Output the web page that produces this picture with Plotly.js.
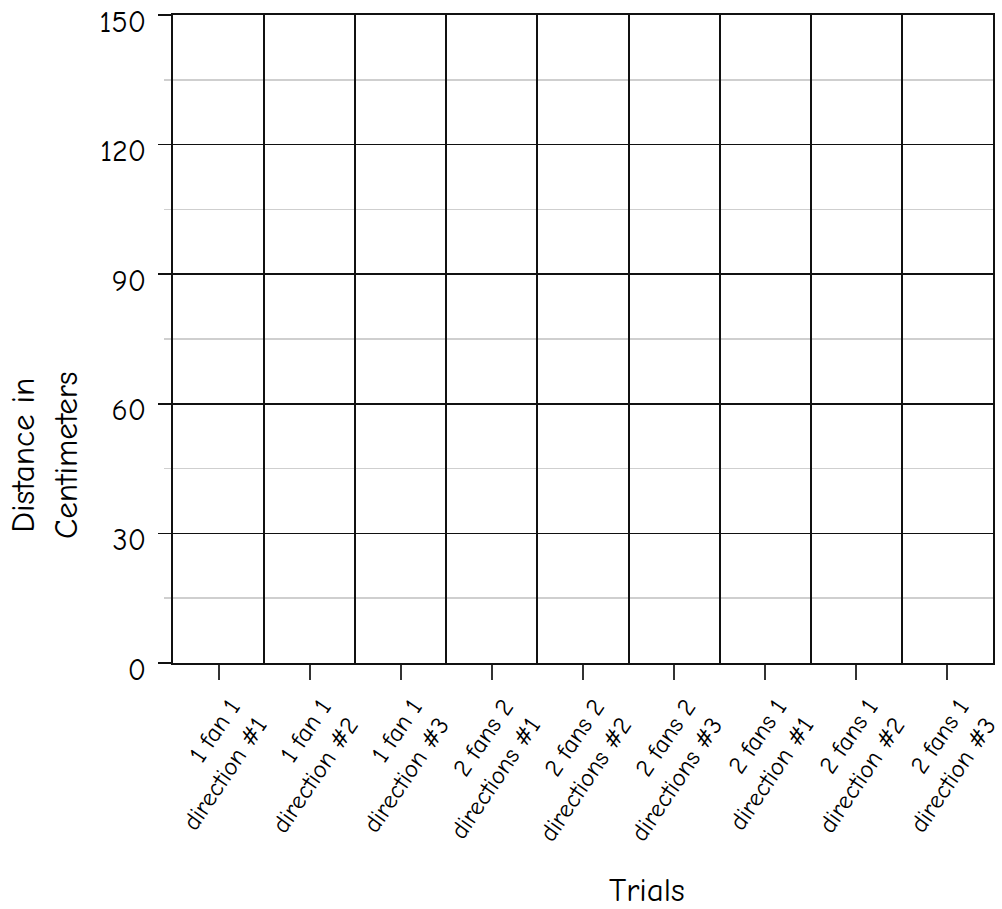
<!DOCTYPE html>
<html>
<head>
<meta charset="utf-8">
<script src="https://cdn.plot.ly/plotly-3.0.1.min.js"></script>
<style>html,body{margin:0;padding:0;background:#fff}#chart{width:1002px;height:909px}</style>
</head>
<body>
<div id="chart"></div>
<script>
// Data (blank template: no measurements recorded)
const categories = [
  "1 fan 1<br>direction #1",
  "1 fan 1<br>direction #2",
  "1 fan 1<br>direction #3",
  "2 fans 2<br>directions #1",
  "2 fans 2<br>directions #2",
  "2 fans 2<br>directions #3",
  "2 fans 1<br>direction #1",
  "2 fans 1<br>direction #2",
  "2 fans 1<br>direction #3"
];
const distances = [null, null, null, null, null, null, null, null, null];
const yTickValues = [0, 30, 60, 90, 120, 150];
const xTitle = "Trials";
const yTitle = "Distance in<br>Centimeters";

const FONT = "'Comic Sans MS', 'Comic Neue', 'DejaVu Sans', sans-serif";

const traces = [
  {type: "bar", x: categories, y: distances, xaxis: "x", yaxis: "y",
   marker: {color: "#4472c4"}, showlegend: false, hoverinfo: "skip"},
  {type: "scatter", mode: "none", x: categories.map((c, i) => i), y: distances,
   xaxis: "x2", yaxis: "y", showlegend: false, hoverinfo: "skip"}
];

const layout = {
  width: 1002, height: 909,
  margin: {l: 173, r: 9, t: 15, b: 246, pad: 0},
  paper_bgcolor: "#fff", plot_bgcolor: "#fff",
  font: {family: FONT, color: "#000"},
  showlegend: false,
  xaxis: {
    type: "category", range: [-0.5, categories.length - 0.5],
    showgrid: false, zeroline: false,
    showline: true, mirror: true, linecolor: "#111", linewidth: 2,
    ticks: "outside", ticklen: 15, tickwidth: 2, tickcolor: "#333",
    tickangle: -56, ticklabelshift: 12, ticklabelstandoff: 2,
    tickfont: {family: FONT, size: 25, color: "#000"},
    fixedrange: true
  },
  xaxis2: {
    type: "linear", overlaying: "x", anchor: "y", side: "bottom",
    range: [-0.5, categories.length - 0.5], tick0: 0.5, dtick: 1,
    showgrid: true, gridcolor: "#111", gridwidth: 2,
    showticklabels: false, ticks: "", zeroline: false, showline: false
  },
  yaxis: {
    range: [0, 150], tickmode: "array", tickvals: yTickValues,
    showgrid: true, gridcolor: "#111", gridwidth: 1.5,
    zeroline: false, showline: true, mirror: true, linecolor: "#111", linewidth: 2,
    ticks: "outside", ticklen: 13, tickwidth: 1.5, tickcolor: "#111",
    ticklabelstandoff: 6, ticklabelshift: 6, ticklabeloverflow: "allow",
    tickfont: {family: FONT, size: 30, color: "#000"},
    minor: {dtick: 15, tick0: 0, showgrid: true, gridcolor: "#cfcfcf", gridwidth: 1.5,
            ticks: "outside", ticklen: 7, tickcolor: "#cfcfcf", tickwidth: 1.5},
    fixedrange: true
  },
  annotations: [
    {text: xTitle, xref: "paper", yref: "paper", x: 0.578, y: -0.350,
     xanchor: "center", yanchor: "middle", showarrow: false,
     font: {family: FONT, size: 33, color: "#000"}},
    {text: yTitle, xref: "paper", yref: "paper", x: -0.156, y: 0.321,
     xanchor: "center", yanchor: "middle", showarrow: false, textangle: -90,
     font: {family: FONT, size: 33, color: "#000"}}
  ]
};

Plotly.newPlot("chart", traces, layout, {displayModeBar: false, staticPlot: true});
</script>
</body>
</html>
